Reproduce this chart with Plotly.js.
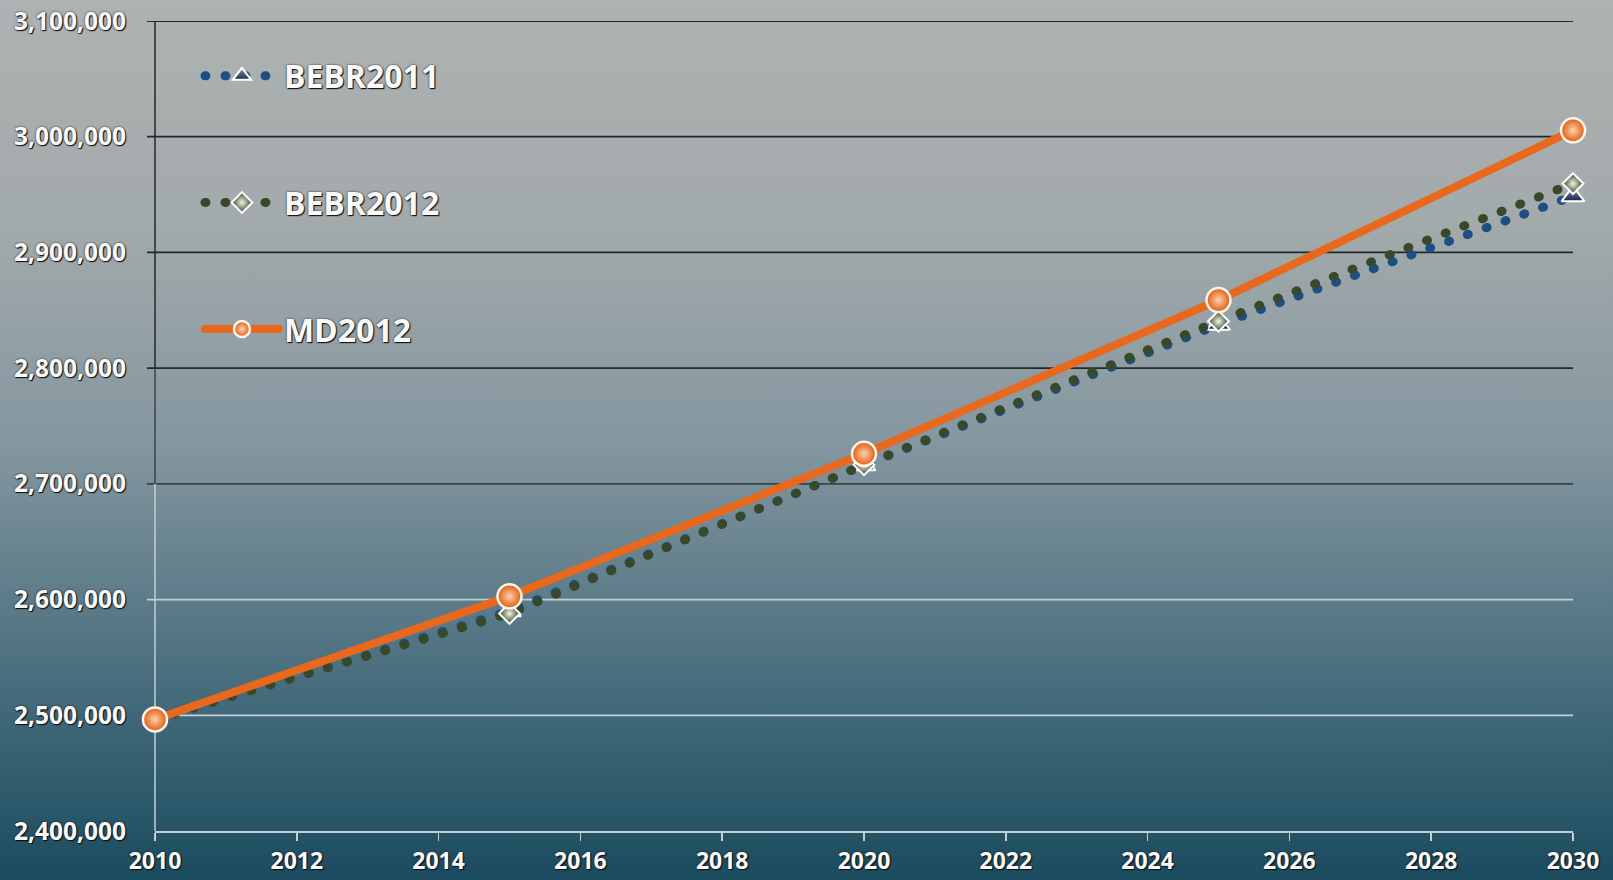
<!DOCTYPE html>
<html><head><meta charset="utf-8">
<script src="https://cdn.plot.ly/plotly-3.0.1.min.js"></script>
<style>
html,body{margin:0;padding:0;width:1613px;height:880px;overflow:hidden;
background:linear-gradient(to bottom,#aeb2b2 0%,#a3aaab 25%,#8597a0 50%,#5d7c89 68%,#386273 85%,#1b4b5f 100%);}
#chart{width:1613px;height:880px;}
path.js-line{stroke-linecap:round;}
</style></head><body><div id="chart"></div>
<script>
// ---- data ----
const years = [2010, 2015, 2020, 2025, 2030];
const bebr2011 = [2496435, 2590000, 2716000, 2837500, 2948500];
const bebr2012 = [2496435, 2588000, 2716500, 2840500, 2959500];
const md2012   = [2496435, 2602800, 2726000, 2858800, 3005500];
const seriesNames = ['BEBR2011', 'BEBR2012', 'MD2012'];
const yTicks = [2400000, 2500000, 2600000, 2700000, 2800000, 2900000, 3000000, 3100000];
const xTicks = [2010, 2012, 2014, 2016, 2018, 2020, 2022, 2024, 2026, 2028, 2030];

// ---- style ----
const FONT = 'Open Sans, Lato, sans-serif';
const SHADOW = '0 0 2px #141414, 1px 1px 1px #0a0a0a';
const yMin = yTicks[0], yMax = yTicks[yTicks.length - 1];
function gridColor(v) {
  const f = (v - yMin) / (yMax - yMin);
  if (f > 0.4) return f > 0.5 ? '#23292b' : '#3a4447';
  return '#c4cfd3';
}

const traces = [
  {
    x: years, y: bebr2011, name: seriesNames[0], legendgroup: 'a',
    mode: 'lines+markers', type: 'scatter', cliponaxis: false,
    line: {color: '#1d4f86', width: 9, dash: '1px,19px'},
    marker: {symbol: 'triangle-up', size: 20, color: '#8e9cb2',
             gradient: {type: 'vertical', color: '#122546'},
             line: {color: '#ffffff', width: 2}}
  },
  {
    x: years, y: bebr2012, name: seriesNames[1], legendgroup: 'b',
    mode: 'lines+markers', type: 'scatter', cliponaxis: false,
    line: {color: '#38482a', width: 9, dash: '1px,19px'},
    marker: {symbol: 'diamond', size: 16, color: '#2e3d24',
             gradient: {type: 'radial', color: '#f2f6e0'},
             line: {color: '#ffffff', width: 2}}
  },
  {
    x: years, y: md2012, name: seriesNames[2], legendgroup: 'c',
    mode: 'lines+markers', type: 'scatter', cliponaxis: false,
    line: {color: '#e8681d', width: 8},
    marker: {symbol: 'circle', size: 24, color: '#e2590f',
             gradient: {type: 'radial', color: '#fbd3b0'},
             line: {color: '#fff4ea', width: 2.5}}
  }
];

const shapes = [];
const plotW = 1613 - 155 - 40;
yTicks.forEach(v => {
  if (v === yMin) return;
  shapes.push({type: 'line', xref: 'paper', yref: 'y', x0: -8 / plotW, x1: 1, y0: v, y1: v,
    line: {color: gridColor(v), width: 1.8}, layer: 'below'});
});
for (let i = 0; i < yTicks.length - 1; i++) {
  const mid = (yTicks[i] + yTicks[i + 1]) / 2;
  shapes.push({type: 'line', xref: 'paper', yref: 'y', x0: 0, x1: 0, y0: yTicks[i], y1: yTicks[i + 1],
    line: {color: gridColor(mid), width: 1.5}, layer: 'below'});
}

const layout = {
  width: 1613, height: 880,
  margin: {l: 155, r: 40, t: 20.6, b: 48.5},
  paper_bgcolor: 'rgba(0,0,0,0)', plot_bgcolor: 'rgba(0,0,0,0)',
  showlegend: true,
  legend: {
    x: 0.0317, xanchor: 'left', y: 0.966, yanchor: 'top',
    bgcolor: 'rgba(0,0,0,0)', itemwidth: 74, tracegroupgap: 82,
    font: {family: FONT, size: 32, color: '#fafafa', weight: 700, shadow: SHADOW}
  },
  xaxis: {
    range: [2010, 2030], tickvals: xTicks, ticktext: xTicks.map(String),
    showgrid: false, zeroline: false,
    showline: true, linecolor: '#c4cfd3', linewidth: 2,
    ticks: 'outside', ticklen: 8, tickwidth: 1.5, tickcolor: '#c4cfd3',
    ticklabelstandoff: 0,
    tickfont: {family: FONT, size: 23, color: '#fafafa', weight: 700, shadow: SHADOW}
  },
  yaxis: {
    range: [yMin, yMax], tickvals: yTicks, tickformat: ',d',
    showgrid: false, zeroline: false, showline: false,
    ticks: 'outside', ticklen: 8, tickcolor: 'rgba(0,0,0,0)',
    ticklabelstandoff: 15,
    tickfont: {family: FONT, size: 24.5, color: '#fafafa', weight: 700, shadow: SHADOW}
  },
  shapes: shapes
};

Plotly.newPlot('chart', traces, layout, {displayModeBar: false, staticPlot: true});
</script>
</body></html>
